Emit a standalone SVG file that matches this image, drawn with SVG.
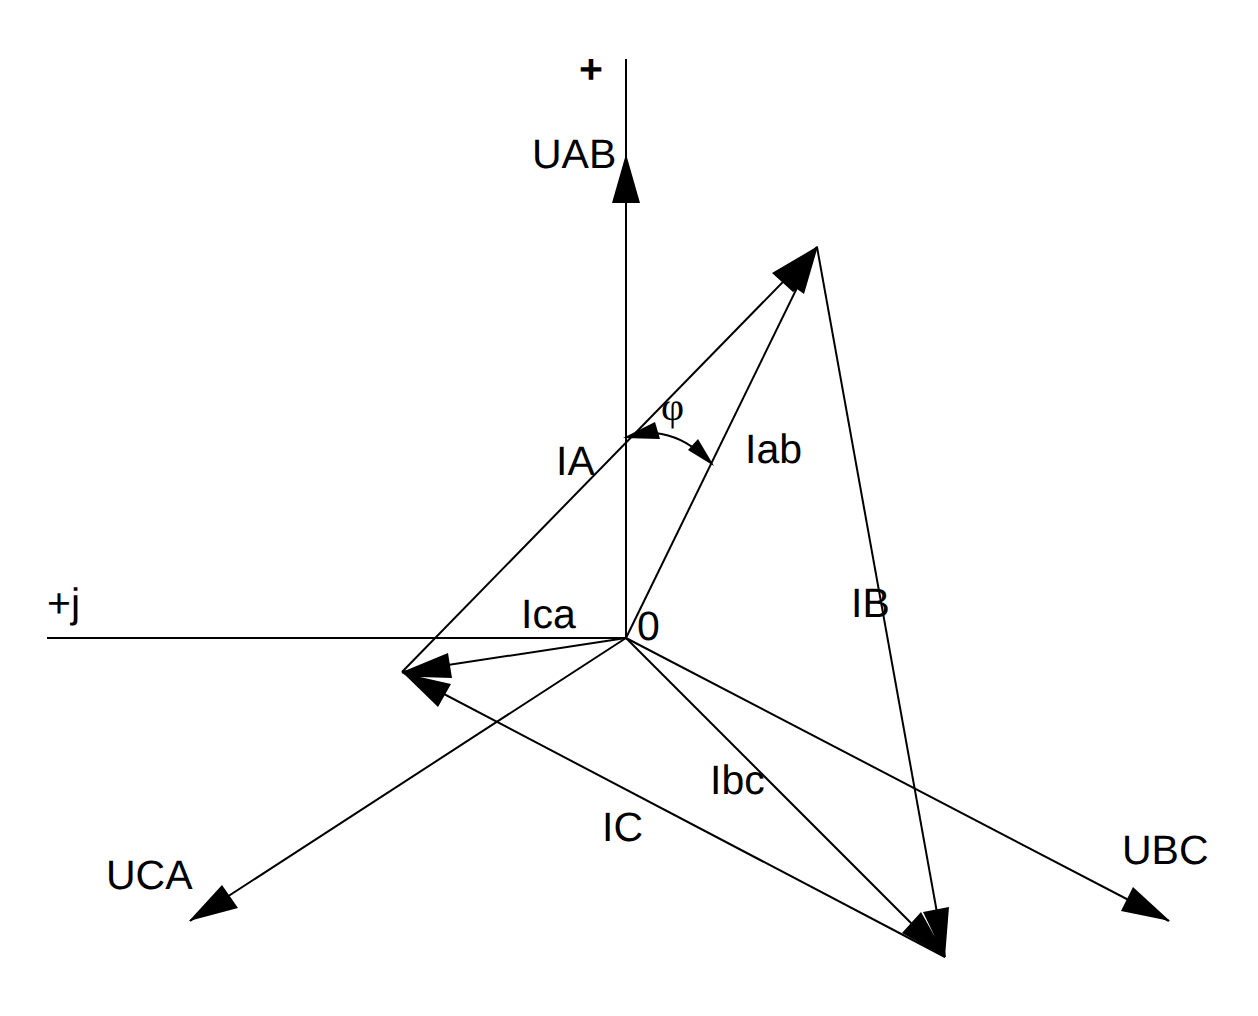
<svg xmlns="http://www.w3.org/2000/svg" width="1258" height="1016" viewBox="0 0 1258 1016">
<style>
.l{fill:none;stroke:#000;stroke-width:2}
.h{fill:#000;stroke:none}
text{font-family:"Liberation Sans",Arial,sans-serif;font-size:41px;fill:#000;text-rendering:geometricPrecision}
</style>
<rect width="1258" height="1016" fill="#fff"/>
<g id="connectors">
<path class="l" d="M626 59V638"/>
<path class="l" d="M47 638H626"/>
<path class="l" d="M402 672L817 247"/>
<path class="l" d="M626 638L817 247"/>
<path class="l" d="M817 247L945 957"/>
<path class="l" d="M626 638L945 957"/>
<path class="l" d="M402 672L945 957"/>
<path class="l" d="M626 638L402 672"/>
<path class="l" d="M626 638L190 921"/>
<path class="l" d="M626 638L1169 921"/>
<path class="l" d="M655 433Q682 436 702 455"/>
<polygon class="h" points="626,154 612,203 640,203"/>
<polygon class="h" points="818,246 772,273 793,292 797,289 804,294"/>
<polygon class="h" points="402,672 448,653 452,678 420,677 451,684 438,707"/>
<polygon class="h" points="189,921 222,885 238,908"/>
<polygon class="h" points="1170,921 1133,887 1121,911"/>
<polygon class="h" points="945,957 902,933 921,912 935,937 923,912 949,907"/>
<polygon class="h" points="623,438 655,422 660,439"/>
<polygon class="h" points="714,466 688,450 698,439"/>
</g>
<g id="label-plus"><text x="579" y="83" font-weight="bold" style="font-weight:bold">+</text></g>
<g id="label-UAB"><text x="532" y="168">UAB</text></g>
<g id="label-phi"><text x="661" y="420" style="font-family:'Liberation Serif',serif;font-size:40px">φ</text></g>
<g id="label-Iab"><text x="745" y="463">Iab</text></g>
<g id="label-IA"><text x="556" y="475">IA</text></g>
<g id="label-plusj"><text x="47" y="617">+j</text></g>
<g id="label-Ica"><text x="521" y="628">Ica</text></g>
<g id="label-0"><text x="637" y="640">0</text></g>
<g id="label-IB"><text x="851" y="617">IB</text></g>
<g id="label-Ibc"><text x="710" y="794">Ibc</text></g>
<g id="label-IC"><text x="602" y="841">IC</text></g>
<g id="label-UBC"><text x="1122" y="864">UBC</text></g>
<g id="label-UCA"><text x="106" y="889">UCA</text></g>
</svg>
